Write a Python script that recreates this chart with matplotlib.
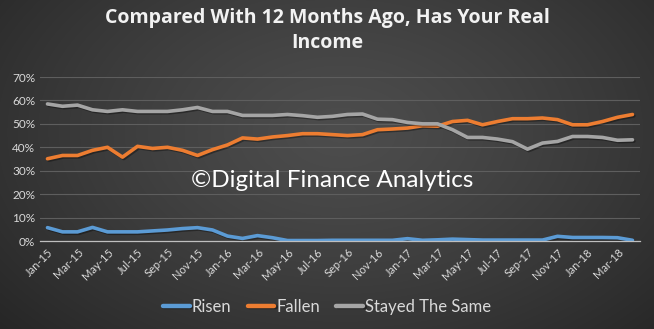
import numpy as np
import matplotlib
matplotlib.use("Agg")
import matplotlib.pyplot as plt
from matplotlib import patheffects as pe

months = ["Jan-15","Feb-15","Mar-15","Apr-15","May-15","Jun-15","Jul-15","Aug-15","Sep-15","Oct-15",
          "Nov-15","Dec-15","Jan-16","Feb-16","Mar-16","Apr-16","May-16","Jun-16","Jul-16","Aug-16",
          "Sep-16","Oct-16","Nov-16","Dec-16","Jan-17","Feb-17","Mar-17","Apr-17","May-17","Jun-17",
          "Jul-17","Aug-17","Sep-17","Oct-17","Nov-17","Dec-17","Jan-18","Feb-18","Mar-18","Apr-18"]

risen = [5.7, 3.9, 3.9, 5.8, 3.9, 3.9, 3.9, 4.3, 4.7, 5.3,
         5.7, 4.7, 2.1, 1.1, 2.3, 1.4, 0.2, 0.2, 0.2, 0.3,
         0.3, 0.3, 0.3, 0.3, 1.0, 0.3, 0.5, 0.8, 0.6, 0.4,
         0.4, 0.4, 0.4, 0.4, 2.0, 1.5, 1.5, 1.5, 1.4, 0.3]
fallen = [35.1, 36.5, 36.5, 38.7, 40.0, 35.8, 40.4, 39.5, 40.0, 38.7,
          36.5, 39.0, 41.0, 44.0, 43.5, 44.4, 45.0, 45.8, 45.8, 45.4,
          45.0, 45.4, 47.5, 47.8, 48.2, 49.2, 49.0, 51.0, 51.5, 49.6,
          51.0, 52.2, 52.2, 52.5, 51.8, 49.6, 49.6, 51.0, 52.8, 54.0]
same = [58.5, 57.5, 58.0, 56.0, 55.3, 56.0, 55.3, 55.3, 55.3, 56.0,
        57.0, 55.3, 55.3, 53.6, 53.6, 53.6, 54.0, 53.5, 52.8, 53.2,
        54.0, 54.2, 52.0, 51.8, 50.6, 50.0, 50.0, 47.5, 44.2, 44.2,
        43.5, 42.4, 39.2, 41.8, 42.5, 44.6, 44.6, 44.2, 43.0, 43.2]

series_names = ["Risen", "Fallen", "Stayed The Same"]
colors = ["#5B9BD5", "#ED7D31", "#A5A5A5"]
yticks = [0, 10, 20, 30, 40, 50, 60, 70]
title = "Compared With 12 Months Ago, Has Your Real\nIncome"
watermark = "\u00a9Digital Finance Analytics"

plt.rcParams['font.family'] = ['Lato', 'DejaVu Sans']

fig = plt.figure(figsize=(6.54, 3.29), dpi=100)

# background radial-ish gradient
bg = fig.add_axes([0, 0, 1, 1])
yy, xx = np.mgrid[0:329, 0:654]
cx, cy = 0.52 * 654, 0.40 * 329
d = np.sqrt(((xx - cx) / 654) ** 2 + ((yy - cy) / 329) ** 2 * 0.6)
d = d / d.max()
shade = 0.30 - 0.15 * d ** 1.3
img = np.dstack([shade, shade, shade])
bg.imshow(img, aspect='auto', extent=[0, 1, 0, 1], origin='upper')
bg.set_axis_off()

ax = fig.add_axes([40 / 654, (329 - 241) / 329, 600 / 654, 164 / 329])
ax.set_facecolor('none')
x = np.arange(len(months))
shadow = [pe.SimpleLineShadow(offset=(1, -1), shadow_color='black', alpha=0.35), pe.Normal()]
for vals, name, c in zip([risen, fallen, same], series_names, colors):
    ax.plot(x, np.array(vals) / 100, color=c, lw=2.6, label=name,
            solid_capstyle='round', solid_joinstyle='round', path_effects=shadow)

ax.set_xlim(-0.5, len(months) - 0.5)
ax.set_ylim(0, 0.70)
ax.set_yticks([v / 100 for v in yticks])
ax.set_yticklabels([f"{v}%" for v in yticks])
ax.set_xticks(x[::2])
ax.set_xticklabels(months[::2], rotation=45, ha='right', rotation_mode='anchor')
ax.tick_params(axis='both', length=0, colors='#D9D9D9', labelsize=8.5)
ax.tick_params(axis='x', pad=4, labelsize=8)
ax.grid(axis='y', color='#5E5E5E', lw=0.8)
ax.set_axisbelow(True)
for s in ['top', 'right', 'left']:
    ax.spines[s].set_visible(False)
ax.spines['bottom'].set_color('#BFBFBF')
ax.spines['bottom'].set_linewidth(0.9)

ax.text(0.487, 0.366, watermark, transform=ax.transAxes, ha='center', va='center',
        fontsize=17.5, color='white', family=['Lato', 'DejaVu Sans'])

fig.text(0.5, 0.975, title, ha='center', va='top', fontsize=14, fontweight='bold',
         color='#F2F2F2', family=['Open Sans', 'DejaVu Sans'], linespacing=1.3)

leg = fig.legend(loc='center', bbox_to_anchor=(0.5, 0.068), ncol=3, frameon=False,
                 fontsize=12, handlelength=1.6, columnspacing=1.0, handletextpad=0.1)
for t in leg.get_texts():
    t.set_color('#D9D9D9')
for h in leg.legend_handles:
    h.set_linewidth(3.2)

fig.savefig("out.png", dpi=100, facecolor='#333333')
